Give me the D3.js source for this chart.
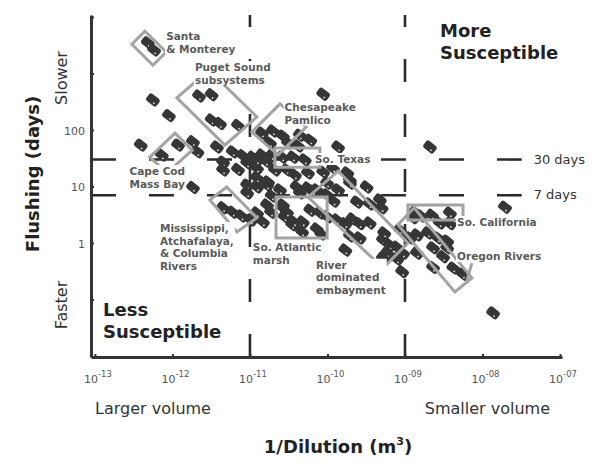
<!DOCTYPE html>
<html lang="en">
<head>
<meta charset="UTF-8">
<title>Estuary susceptibility: flushing vs dilution</title>
<script src="https://d3js.org/d3.v7.min.js"></script>
<style>
  body { margin: 0; background: #fff; }
  text { font-family: "DejaVu Sans", sans-serif; }
</style>
</head>
<body>
<div id="chart"></div>
<script>
// one point per estuary: 1/dilution (m^3) and flushing time (days)
var dilution = [
  4.8e-13, 5.8e-13, 5.6e-13, 9.0e-13, 2.2e-12, 3.2e-12, 3.2e-12, 4.1e-12, 7.0e-12, 3.9e-13,
  7.3e-13, 1.18e-12, 1.84e-12, 2.1e-12, 3.75e-12, 4.5e-12, 6.0e-12, 8.1e-12, 7.0e-12, 1.84e-12,
  9.2e-12, 8.8e-11, 1.37e-10, 2.1e-9, 1.95e-8, 1.37e-8, 4.75e-10, 1.43e-11, 1.98e-11, 2.66e-11,
  4.4e-11, 6.0e-11, 1.81e-11, 3.1e-11, 4.2e-11, 1.09e-11, 1.43e-11, 1.92e-11, 2.6e-11, 3.6e-11,
  5.1e-11, 1.23e-11, 1.61e-11, 2.1e-11, 3.0e-11, 3.8e-11, 5.6e-11, 8.8e-11, 1.18e-10, 1.8e-10,
  1.95e-10, 1.23e-11, 1.71e-11, 1.23e-11, 1.66e-11, 9.2e-12, 2.44e-11, 4.0e-11, 5.6e-11, 7.3e-11,
  9.9e-11, 1.37e-10, 1.95e-10, 3.2e-10, 1.92e-11, 2.66e-11, 4.4e-11, 6.5e-11, 9.9e-11, 1.2e-10,
  2.4e-10, 3.5e-10, 5.0e-10, 1.23e-11, 1.47e-11, 2.6e-11, 2.8e-11, 3.5e-11, 4.8e-11, 4.7e-11,
  7.3e-11, 8.3e-11, 6.0e-11, 8.0e-11, 1.0e-10, 1.33e-10, 1.7e-10, 2.1e-10, 2.6e-10, 3.5e-10,
  2.6e-10, 1.95e-10, 1.7e-10, 5.2e-10, 6.4e-10, 5.9e-10, 7.9e-10, 9.4e-10, 7.9e-10, 9.2e-10,
  1.66e-11, 1.87e-11, 3.0e-11, 3.7e-11, 9.2e-12, 1.23e-11, 4.5e-12, 6.0e-12, 7.8e-12, 1.03e-11,
  1.35e-9, 1.61e-9, 2.23e-9, 3.8e-9, 2.8e-9, 3.8e-9, 8.6e-10, 5.4e-10, 1.43e-9, 1.98e-9,
  2.66e-9, 3.5e-9, 1.16e-9, 2.3e-9, 3.5e-9, 1.43e-9, 3.1e-9, 5.2e-10, 2.3e-9, 4.2e-9,
  5.6e-9, 1.27e-9, 4.5e-12
];
var flushing = [
  3500, 2600, 340, 180, 400, 420, 150, 130, 120, 54,
  36, 54, 62, 41, 50, 27, 41, 35, 20, 9.6,
  26, 430, 50, 50, 4.3, 0.058, 5.8, 88, 96, 78,
  81, 66, 59, 59, 52, 33, 36, 35, 33, 33,
  29.5, 21, 28, 19.6, 19.6, 16, 17.4, 18, 21, 17.4,
  13, 14.2, 12, 9.8, 10.6, 10.6, 8.7, 9.8, 9.4, 8.7,
  11.5, 8.7, 11.5, 9.8, 6.8, 4.7, 7.7, 8.3, 7.1, 5.5,
  5.3, 4.9, 4.2, 3.4, 2.35, 4.3, 2.9, 2.1, 2.35, 1.57,
  1.77, 1.44, 3.8, 3.4, 2.9, 2.55, 2.2, 2.66, 2.2, 2.26,
  1.23, 1.33, 0.75, 1.13, 0.92, 0.66, 0.84, 0.66, 0.52, 0.31,
  4.7, 3.5, 3.5, 2.35, 7.7, 29.5, 4.2, 3.5, 3.0, 2.55,
  3.5, 3.0, 3.1, 3.4, 2.26, 2.2, 1.7, 1.5, 1.39, 1.5,
  1.23, 1.08, 1.23, 0.82, 0.82, 0.66, 0.57, 0.54, 0.37, 0.36,
  0.28, 2.8, 19.6
];

var xTicks = [1e-13, 1e-12, 1e-11, 1e-10, 1e-9, 1e-8, 1e-7];
var xTickExp = ["-13", "-12", "-11", "-10", "-09", "-08", "-07"];
var yTicks = [1e4, 1e3, 100, 10, 1, 0.1];
var yTickLabels = ["", "", "100", "10", "1", ""];

var thresholdDays = [30, 7];
var thresholdLabels = ["30 days", "7 days"];
var thresholdDilution = [1e-11, 1e-9];

// estuary groups: label lines, label anchor and outline corners (data units)
var groupLines = [
  ["Santa", "& Monterey"],
  ["Puget Sound", "subsystems"],
  ["Chesapeake", "Pamlico"],
  ["So. Texas"],
  ["Cape Cod", "Mass Bay"],
  ["Mississippi,", "Atchafalaya,", "& Columbia", "Rivers"],
  ["So. Atlantic", "marsh"],
  ["River", "dominated", "embayment"],
  ["So. California"],
  ["Oregon Rivers"]
];
var groupLabelAt = [
  [8.3e-13, 3900], [1.95e-12, 1100], [2.8e-11, 217], [6.9e-11, 26], [2.8e-13, 16],
  [6.9e-13, 1.57], [1.09e-11, 0.72], [7.1e-11, 0.35], [4.7e-9, 2.0], [4.7e-9, 0.5]
];
var groupBoxes = [
  [[3.0e-13, 3300], [4.4e-13, 5600], [8.3e-13, 2400], [5.6e-13, 1400]],
  [[1.14e-12, 370], [2.95e-12, 1150], [1.23e-11, 170], [4.75e-12, 54]],
  [[1.06e-11, 92], [2.44e-11, 290], [5.3e-11, 113], [2.3e-11, 36]],
  [[2.1e-11, 48], [8.0e-11, 48], [8.0e-11, 22], [2.1e-11, 22]],
  [[5.1e-13, 33], [1.08e-12, 88], [1.8e-12, 44], [8.5e-13, 17.4]],
  [[3.05e-12, 5.8], [5.0e-12, 9.8], [1.23e-11, 2.8], [6.8e-12, 1.57]],
  [[2.17e-11, 6.5], [9.9e-11, 6.5], [9.9e-11, 1.23], [2.17e-11, 1.23]],
  [[5.6e-11, 6.5], [1.37e-10, 18.8], [1.09e-9, 1.0], [5.2e-10, 0.36]],
  [[1.09e-9, 4.7], [5.6e-9, 4.7], [5.6e-9, 2.55], [1.09e-9, 2.55]],
  [[8.1e-10, 2.1], [1.31e-9, 4.2], [7.3e-9, 0.24], [4.4e-9, 0.136]]
];
var oregonLeader = [[7.3e-9, 0.44], [6.3e-9, 0.22]];

var width = 595, height = 461;

var x = d3.scaleLog().domain([8.9e-14, 1.06e-7]).range([91, 562]);
var y = d3.scaleLog().domain([0.0096, 10840]).range([357, 15]);

var svg = d3.select("#chart").append("svg")
    .attr("width", width)
    .attr("height", height)
    .style("background", "#fff");

// dashed threshold lines
var dashEnd = 3.2e-8;
svg.append("g").selectAll("line")
    .data(thresholdDays)
    .enter().append("line")
    .attr("x1", x.range()[0])
    .attr("x2", x(dashEnd))
    .attr("y1", function(d) { return y(d); })
    .attr("y2", function(d) { return y(d); })
    .attr("stroke", "#2b2b2b")
    .attr("stroke-width", 2.6)
    .attr("stroke-dasharray", "25,33");

svg.append("g").selectAll("line")
    .data(thresholdDilution)
    .enter().append("line")
    .attr("x1", function(d) { return x(d); })
    .attr("x2", function(d) { return x(d); })
    .attr("y1", y.range()[0])
    .attr("y2", y.range()[1])
    .attr("stroke", "#2b2b2b")
    .attr("stroke-width", 2.6)
    .attr("stroke-dasharray", "23,32");

svg.append("g").selectAll("text")
    .data(thresholdDays)
    .enter().append("text")
    .attr("x", x(dashEnd) + 12)
    .attr("y", function(d) { return y(d) + 4; })
    .attr("font-size", 13)
    .attr("fill", "#333")
    .text(function(d, i) { return thresholdLabels[i]; });

// axes
var yAxis = d3.axisLeft(y).tickValues(yTicks).tickSize(-3).tickSizeOuter(0).tickFormat("");
var gy = svg.append("g").attr("transform", "translate(" + x.range()[0] + ",0)").call(yAxis);
var xAxis = d3.axisBottom(x).tickValues(xTicks).tickSize(-3).tickSizeOuter(0).tickFormat("");
var gx = svg.append("g").attr("transform", "translate(0," + y.range()[0] + ")").call(xAxis);
[gx, gy].forEach(function(g) {
  g.select(".domain").attr("stroke", "#333").attr("stroke-width", 3);
  g.selectAll(".tick line").attr("stroke", "#333").attr("stroke-width", 2);
});

svg.append("g").selectAll("text")
    .data(yTicks)
    .enter().append("text")
    .attr("x", x.range()[0] - 6)
    .attr("y", function(d) { return y(d) + 5; })
    .attr("text-anchor", "end")
    .attr("font-size", 11)
    .attr("fill", "#555")
    .text(function(d, i) { return yTickLabels[i]; });

var xl = svg.append("g").selectAll("text")
    .data(xTicks)
    .enter().append("text")
    .attr("x", function(d) { return x(d) + 3; })
    .attr("y", 383)
    .attr("text-anchor", "middle")
    .attr("fill", "#555");
xl.append("tspan").attr("font-size", 11).text("10");
xl.append("tspan").attr("font-size", 8.5).attr("dy", -6)
    .text(function(d, i) { return xTickExp[i]; });

// points
var pts = svg.append("g").selectAll("g")
    .data(d3.range(dilution.length))
    .enter().append("g")
    .attr("transform", function(i) {
      return "translate(" + x(dilution[i]) + "," + y(flushing[i]) + ") rotate(38)";
    });
pts.append("rect")
    .attr("x", -6.5).attr("y", -4.5)
    .attr("width", 13).attr("height", 9)
    .attr("rx", 2.5)
    .attr("fill", "#363636");
pts.append("circle")
    .attr("cx", 2.8).attr("cy", 2).attr("r", 0.9)
    .attr("fill", "#ddd");

// group outlines
var line = d3.line()
    .x(function(d) { return x(d[0]); })
    .y(function(d) { return y(d[1]); })
    .curve(d3.curveLinearClosed);

svg.append("g").selectAll("path")
    .data(groupBoxes)
    .enter().append("path")
    .attr("d", line)
    .attr("fill", "none")
    .attr("stroke", "#a3a3a3")
    .attr("stroke-width", 3);

svg.append("path")
    .attr("d", d3.line().x(function(d) { return x(d[0]); }).y(function(d) { return y(d[1]); })(oregonLeader))
    .attr("fill", "none")
    .attr("stroke", "#a3a3a3")
    .attr("stroke-width", 3);

// group labels with white backing
var labels = svg.append("g").selectAll("g")
    .data(groupLines)
    .enter().append("g");
labels.each(function(lines, i) {
  var g = d3.select(this);
  var t = g.append("text")
      .attr("font-size", 10.5)
      .attr("font-weight", "bold")
      .attr("fill", "#5a5a5a");
  lines.forEach(function(s, j) {
    t.append("tspan")
        .attr("x", x(groupLabelAt[i][0]))
        .attr("y", y(groupLabelAt[i][1]) + j * 12.6)
        .text(s);
  });
  var b = t.node().getBBox();
  g.insert("rect", "text")
      .attr("x", b.x - 1).attr("y", b.y)
      .attr("width", b.width + 2).attr("height", b.height)
      .attr("fill", "#fff");
});

// quadrant captions
var more = svg.append("text").attr("font-size", 18).attr("font-weight", "bold").attr("fill", "#222");
more.append("tspan").attr("x", 440).attr("y", 37).text("More");
more.append("tspan").attr("x", 440).attr("y", 59).text("Susceptible");
var less = svg.append("text").attr("font-size", 18).attr("font-weight", "bold").attr("fill", "#222");
less.append("tspan").attr("x", 103).attr("y", 316).text("Less");
less.append("tspan").attr("x", 103).attr("y", 338).text("Susceptible");

// axis titles
svg.append("text").attr("x", 95).attr("y", 414).attr("font-size", 16).attr("fill", "#333").text("Larger volume");
svg.append("text").attr("x", 550).attr("y", 414).attr("text-anchor", "end").attr("font-size", 16).attr("fill", "#333").text("Smaller volume");

var xt = svg.append("text").attr("x", 338).attr("y", 453).attr("text-anchor", "middle")
    .attr("font-size", 18).attr("font-weight", "bold").attr("fill", "#222");
xt.append("tspan").text("1/Dilution (m");
xt.append("tspan").attr("font-size", 11).attr("dy", -8).text("3");
xt.append("tspan").attr("dy", 8).text(")");

svg.append("text").attr("transform", "translate(39,174) rotate(-90)").attr("text-anchor", "middle")
    .attr("font-size", 18).attr("font-weight", "bold").attr("fill", "#222").text("Flushing (days)");
svg.append("text").attr("transform", "translate(67,78) rotate(-90)").attr("text-anchor", "middle")
    .attr("font-size", 16).attr("fill", "#333").text("Slower");
svg.append("text").attr("transform", "translate(67,305) rotate(-90)").attr("text-anchor", "middle")
    .attr("font-size", 16).attr("fill", "#333").text("Faster");
</script>
</body>
</html>
